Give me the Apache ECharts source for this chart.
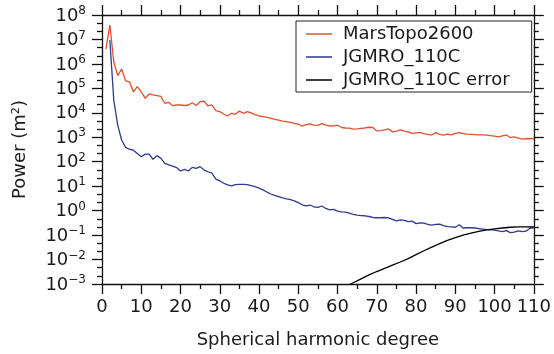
<!DOCTYPE html>
<html><head><meta charset="utf-8">
<script src="https://cdn.jsdelivr.net/npm/echarts@6/dist/echarts.min.js"></script>
<style>html,body{margin:0;padding:0;background:#fff}#c{width:554px;height:354px}</style>
</head><body><div id="c"></div>
<script>
// Spherical harmonic degrees 1..110
const degrees = [1,2,3,4,5,6,7,8,9,10,11,12,13,14,15,16,17,18,19,20,
  21,22,23,24,25,26,27,28,29,30,31,32,33,34,35,36,37,38,39,40,
  41,42,43,44,45,46,47,48,49,50,51,52,53,54,55,56,57,58,59,60,
  61,62,63,64,65,66,67,68,69,70,71,72,73,74,75,76,77,78,79,80,
  81,82,83,84,85,86,87,88,89,90,91,92,93,94,95,96,97,98,99,100,
  101,102,103,104,105,106,107,108,109,110];

// Power, stored as log10 (m^2)
const marsTopoLog10 = [6.60,7.59,6.09,5.52,5.79,5.31,5.27,4.86,5.07,4.86,
  4.59,4.77,4.73,4.70,4.67,4.39,4.43,4.29,4.32,4.32,
  4.30,4.32,4.41,4.30,4.45,4.48,4.28,4.32,4.09,4.05,
  3.95,3.87,3.98,3.94,4.07,3.98,4.05,4.00,3.93,3.87,
  3.84,3.81,3.78,3.73,3.70,3.66,3.64,3.61,3.57,3.54,
  3.46,3.52,3.55,3.50,3.49,3.56,3.50,3.46,3.47,3.49,
  3.40,3.38,3.37,3.33,3.34,3.36,3.38,3.41,3.40,3.26,
  3.27,3.30,3.34,3.22,3.25,3.30,3.25,3.22,3.16,3.18,
  3.20,3.15,3.12,3.09,3.19,3.12,3.09,3.13,3.10,3.16,
  3.19,3.15,3.13,3.12,3.11,3.10,3.10,3.09,3.07,3.05,
  3.02,3.06,3.09,2.99,3.02,2.97,2.92,2.94,2.94,2.95];

const jgmroLog10 = [null,6.98,4.52,3.50,2.89,2.59,2.51,2.47,2.34,2.20,
  2.31,2.31,2.10,2.25,2.14,1.93,1.87,1.82,1.76,1.62,
  1.69,1.62,1.77,1.73,1.80,1.66,1.59,1.53,1.29,1.22,
  1.12,1.05,1.01,1.06,1.07,1.07,1.06,1.02,0.98,0.92,
  0.85,0.76,0.68,0.62,0.57,0.52,0.48,0.45,0.40,0.33,
  0.24,0.19,0.23,0.15,0.13,0.19,0.09,0.03,0.05,-0.02,
  -0.05,-0.06,-0.10,-0.15,-0.18,-0.20,-0.21,-0.24,-0.28,-0.29,
  -0.29,-0.28,-0.30,-0.36,-0.42,-0.38,-0.40,-0.45,-0.43,-0.53,
  -0.50,-0.51,-0.56,-0.59,-0.56,-0.55,-0.61,-0.65,-0.66,-0.68,
  -0.58,-0.71,-0.70,-0.70,-0.71,-0.74,-0.76,-0.78,-0.79,-0.80,
  -0.83,-0.86,-0.82,-0.90,-0.88,-0.83,-0.86,-0.84,-0.72,-0.70];

const errorDegrees = [62,64,66,68,70,72,74,76,78,80,82,84,86,88,90,92,94,96,98,100,102,104,106,108,110];
const errorLog10 = [-3.10,-2.95,-2.79,-2.63,-2.49,-2.36,-2.23,-2.10,-1.96,-1.80,-1.64,-1.49,-1.35,-1.22,-1.10,-1.00,-0.92,-0.85,-0.79,-0.75,-0.71,-0.68,-0.66,-0.66,-0.67];

const seriesNames = ['MarsTopo2600', 'JGMRO_110C', 'JGMRO_110C error'];
const seriesColors = ['#E0502F', '#2E3A8E', '#000000'];
const xTicks = [0,10,20,30,40,50,60,70,80,90,100,110];
const yTickExponents = [-3,-2,-1,0,1,2,3,4,5,6,7,8];

const FONT = '"DejaVu Sans", "Liberation Sans", Arial, sans-serif';
const TXT = '#1a1a1a';
const AX = '#111';

function pairs(xs, logs) {
  return xs.map((d, i) => [d, logs[i] == null ? null : Math.pow(10, logs[i])]);
}

const lineAxis = {
  axisLine: {show: true, onZero: false, lineStyle: {color: AX, width: 1.3}},
  axisTick: {show: true, inside: false, length: 10, lineStyle: {color: AX, width: 1.3}},
  minorTick: {show: true, length: 5, lineStyle: {color: AX, width: 1.3}},
  splitLine: {show: false}
};

const chart = echarts.init(document.getElementById('c'), null, {renderer: 'canvas'});
chart.setOption({
  animation: false,
  backgroundColor: '#fff',
  grid: {left: 102, right: 16, top: 15, bottom: 70},
  legend: {
    orient: 'vertical', left: 296, top: 21,
    padding: [3, 22, 2, 10], itemGap: 3, itemWidth: 26, itemHeight: 1.5,
    icon: 'rect',
    borderColor: '#222', borderWidth: 1, backgroundColor: '#fff',
    textStyle: {fontFamily: FONT, fontSize: 18, color: TXT, lineHeight: 20, padding: [0, 0, 0, 6]},
    data: seriesNames
  },
  xAxis: [
    Object.assign({}, lineAxis, {
      type: 'value', min: xTicks[0], max: xTicks[xTicks.length - 1], interval: 10, position: 'bottom',
      minorTick: Object.assign({}, lineAxis.minorTick, {splitNumber: 2}),
      axisLabel: {fontFamily: FONT, fontSize: 18, color: TXT, margin: 14},
      name: 'Spherical harmonic degree', nameLocation: 'middle', nameGap: 47,
      nameTextStyle: {fontFamily: FONT, fontSize: 18, color: TXT}
    }),
    Object.assign({}, lineAxis, {
      type: 'value', min: xTicks[0], max: xTicks[xTicks.length - 1], interval: 10, position: 'top',
      minorTick: Object.assign({}, lineAxis.minorTick, {splitNumber: 2}),
      axisLabel: {show: false}
    })
  ],
  yAxis: [
    {type: 'log', logBase: 10, min: 1e-3, max: 1e8, position: 'right', show: false},
    Object.assign({}, lineAxis, {
      type: 'value', min: yTickExponents[0], max: yTickExponents[yTickExponents.length - 1], interval: 1, position: 'left',
      minorTick: Object.assign({}, lineAxis.minorTick, {splitNumber: 3}),
      axisLabel: {
        margin: 16,
        formatter: function (v) {
          const e = Math.round(v);
          return '{b|10}{s|' + (e < 0 ? '\u2212' + (-e) : e) + '}';
        },
        rich: {
          b: {fontFamily: FONT, fontSize: 18, color: TXT, lineHeight: 20, verticalAlign: 'bottom'},
          s: {fontFamily: FONT, fontSize: 12, color: TXT, lineHeight: 12, verticalAlign: 'top'}
        }
      },
      name: 'Power (m\u00B2)', nameLocation: 'middle', nameGap: 73, nameRotate: 90,
      nameTextStyle: {fontFamily: FONT, fontSize: 18, color: TXT}
    }),
    Object.assign({}, lineAxis, {
      type: 'value', min: yTickExponents[0], max: yTickExponents[yTickExponents.length - 1], interval: 1, position: 'right',
      minorTick: Object.assign({}, lineAxis.minorTick, {splitNumber: 3}),
      axisLabel: {show: false}
    })
  ],
  series: [
    {name: seriesNames[0], type: 'line', xAxisIndex: 0, yAxisIndex: 0, data: pairs(degrees, marsTopoLog10),
      symbol: 'none', connectNulls: false, color: seriesColors[0], lineStyle: {color: seriesColors[0], width: 1.3}, z: 3},
    {name: seriesNames[1], type: 'line', xAxisIndex: 0, yAxisIndex: 0, data: pairs(degrees, jgmroLog10),
      symbol: 'none', connectNulls: false, color: seriesColors[1], lineStyle: {color: seriesColors[1], width: 1.3}, z: 3},
    {name: seriesNames[2], type: 'line', xAxisIndex: 0, yAxisIndex: 0, data: pairs(errorDegrees, errorLog10),
      symbol: 'none', clip: true, color: seriesColors[2], lineStyle: {color: seriesColors[2], width: 1.3}, z: 3}
  ]
});
</script></body></html>
